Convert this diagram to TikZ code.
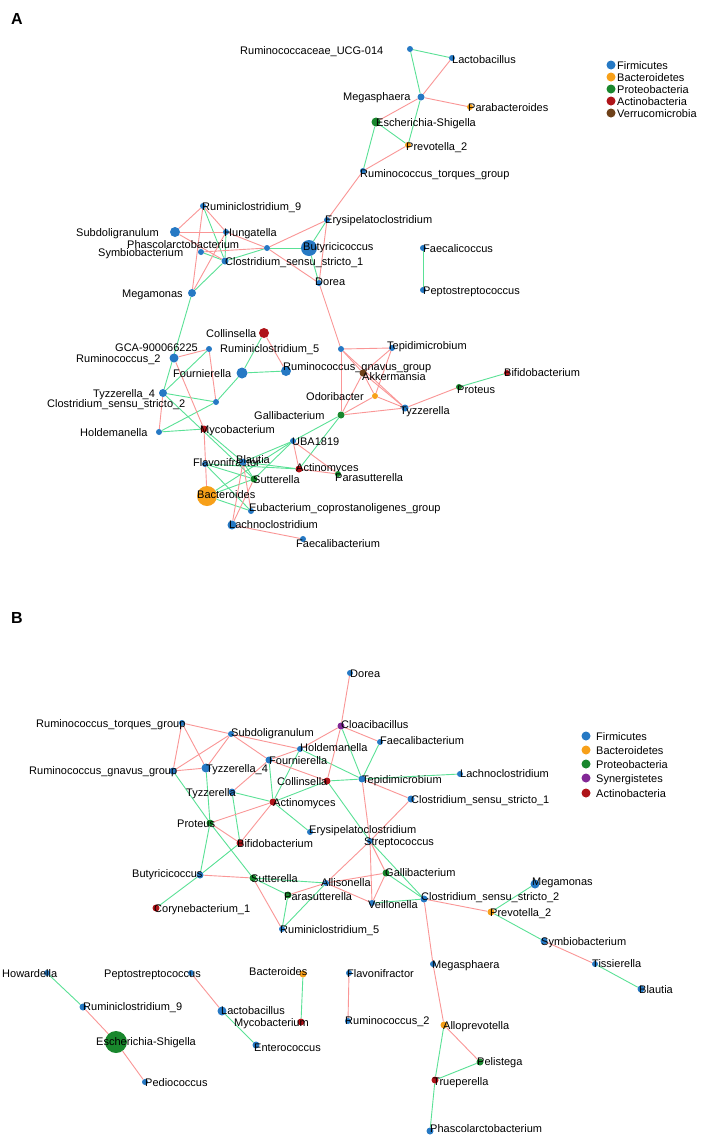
\documentclass[tikz,border=0pt]{standalone}
\usepackage{fontspec}
\setmainfont{Liberation Sans}
\usetikzlibrary{backgrounds}
\definecolor{fblue}{RGB}{38,121,196}
\definecolor{forange}{RGB}{247,160,25}
\definecolor{fgreen}{RGB}{25,135,45}
\definecolor{fred}{RGB}{175,20,25}
\definecolor{fbrown}{RGB}{110,65,25}
\definecolor{fpurple}{RGB}{130,40,150}
\definecolor{egreen}{RGB}{90,225,150}
\definecolor{ered}{RGB}{250,150,150}
\tikzset{
  lbl/.style={inner sep=0pt, font=\fontsize{11}{13}\selectfont, text=black},
  vtx/.style={circle, inner sep=0pt, draw=none},
  ge/.style={draw=egreen, line width=0.9pt},
  re/.style={draw=ered, line width=0.9pt},
  panel/.style={inner sep=0pt, font=\bfseries\fontsize{16}{18}\selectfont},
}
\newcommand{\nd}[8]{%
  \node[vtx, fill=#4, minimum size=#5*2pt] (#1) at (#2,#3) {};
  \node[lbl, anchor=base west] (#1-l) at (#6,#7+4) {#8};}
\begin{document}
\begin{tikzpicture}[x=1pt,y=-1pt]
\useasboundingbox (0,0) rectangle (702,1138);
\node[panel] (pA) at (17,19) {A};
\node[panel] (pB) at (17,618) {B};
% ---------------- Panel A nodes
\nd{aUCG}{410}{49}{fblue}{3}{240}{50}{Ruminococcaceae\_UCG-014}
\nd{aLac}{452}{58}{fblue}{3}{452}{59}{Lactobacillus}
\nd{aMeg}{421}{97}{fblue}{3.5}{343}{96}{Megasphaera}
\nd{aPara}{470}{107}{forange}{3}{468}{107}{Parabacteroides}
\nd{aEsch}{376}{122}{fgreen}{4.5}{376}{122}{Escherichia-Shigella}
\nd{aPrev}{408}{145}{forange}{3}{406}{146}{Prevotella\_2}
\nd{aRTG}{363}{171}{fblue}{3}{360}{173}{Ruminococcus\_torques\_group}
\nd{aErys}{327}{220}{fblue}{3}{325}{219}{Erysipelatoclostridium}
\nd{aR9}{203}{206}{fblue}{3}{202}{206}{Ruminiclostridium\_9}
\nd{aSub}{175}{232}{fblue}{5}{76}{232}{Subdoligranulum}
\nd{aHung}{226}{232}{fblue}{3}{224}{232}{Hungatella}
\nd{aSymb}{201}{252}{fblue}{3}{98}{252}{Symbiobacterium}
\nd{aPhasc}{267}{248}{fblue}{3}{127}{244}{Phascolarctobacterium}
\nd{aCSS1}{225}{261}{fblue}{3.5}{225}{261}{Clostridium\_sensu\_stricto\_1}
\nd{aButy}{309}{248}{fblue}{8}{303}{246}{Butyricicoccus}
\nd{aDorea}{319}{283}{fblue}{3}{315}{281}{Dorea}
\nd{aMegam}{192}{293}{fblue}{4}{122}{293}{Megamonas}
\nd{aFaecc}{423}{248}{fblue}{3}{423}{248}{Faecalicoccus}
\nd{aPepto}{423}{290}{fblue}{3}{423}{290}{Peptostreptococcus}
\nd{aColl}{264}{333}{fred}{5}{206}{333}{Collinsella}
\nd{aGCA}{209}{349}{fblue}{3}{115}{347}{GCA-900066225}
\nd{aR2}{174}{358}{fblue}{4.5}{76}{358}{Ruminococcus\_2}
\nd{aFour}{242}{373}{fblue}{5.5}{173}{373}{Fournierella}
\nd{aRGG}{286}{371}{fblue}{5}{283}{366}{Ruminococcus\_gnavus\_group}
\nd{aR5}{341}{349}{fblue}{3}{220}{348}{Ruminiclostridium\_5}
\nd{aTep}{392}{348}{fblue}{3}{387}{345}{Tepidimicrobium}
\nd{aAkk}{363}{373}{fbrown}{3.5}{362}{376}{Akkermansia}
\nd{aOdo}{375}{396}{forange}{3}{306}{396}{Odoribacter}
\nd{aTyz}{405}{408}{fblue}{3.5}{400}{410}{Tyzzerella}
\nd{aGall}{341}{415}{fgreen}{3.5}{254}{415}{Gallibacterium}
\nd{aProt}{459}{387}{fgreen}{3}{457}{389}{Proteus}
\nd{aBifi}{507}{373}{fred}{3}{504}{372}{Bifidobacterium}
\nd{aTyzF}{163}{393}{fblue}{4}{93}{393}{Tyzzerella\_4}
\nd{aCSS2}{216}{402}{fblue}{3}{47}{403}{Clostridium\_sensu\_stricto\_2}
\nd{aHold}{159}{432}{fblue}{3}{80}{432}{Holdemanella}
\nd{aMyco}{204}{429}{fred}{3.5}{200}{429}{Mycobacterium}
\nd{aUBA}{293}{441}{fblue}{3}{292}{441}{UBA1819}
\nd{aFlav}{205}{464}{fblue}{3}{193}{462}{Flavonifractor}
\nd{aBlau}{243}{462}{fblue}{3.5}{236}{459}{Blautia}
\nd{aActi}{299}{469}{fred}{3.5}{296}{467}{Actinomyces}
\nd{aParS}{338}{474}{fgreen}{3}{335}{477}{Parasutterella}
\nd{aSutt}{254}{479}{fgreen}{3.5}{253}{479}{Sutterella}
\nd{aBact}{207}{496}{forange}{10}{197}{494}{Bacteroides}
\nd{aEub}{251}{511}{fblue}{3}{249}{507}{Eubacterium\_coprostanoligenes\_group}
\nd{aLach}{232}{525}{fblue}{4.5}{229}{524}{Lachnoclostridium}
\nd{aFaec}{303}{539}{fblue}{3}{296}{543}{Faecalibacterium}
% legend A
\nd{laA}{611}{65}{fblue}{4.5}{617}{65}{Firmicutes}
\nd{laB}{611}{77}{forange}{4.5}{617}{77}{Bacteroidetes}
\nd{laC}{611}{89}{fgreen}{4.5}{617}{89}{Proteobacteria}
\nd{laD}{611}{101}{fred}{4.5}{617}{101}{Actinobacteria}
\nd{laE}{611}{113}{fbrown}{4.5}{617}{113}{Verrucomicrobia}
% ---------------- Panel B nodes
\nd{bDorea}{350}{673}{fblue}{3}{350}{673}{Dorea}
\nd{bCloa}{341}{726}{fpurple}{3.5}{341}{724}{Cloacibacillus}
\nd{bRTG}{182}{723}{fblue}{3}{36}{723}{Ruminococcus\_torques\_group}
\nd{bSub}{231}{734}{fblue}{3}{231}{732}{Subdoligranulum}
\nd{bFaec}{380}{742}{fblue}{3}{380}{740}{Faecalibacterium}
\nd{bHold}{300}{749}{fblue}{3}{300}{747}{Holdemanella}
\nd{bFour}{269}{760}{fblue}{3.5}{269}{760}{Fournierella}
\nd{bRGG}{173}{771}{fblue}{3.5}{29}{770}{Ruminococcus\_gnavus\_group}
\nd{bTyzF}{206}{768}{fblue}{4.5}{206}{768}{Tyzzerella\_4}
\nd{bColl}{327}{781}{fred}{3.5}{277}{781}{Collinsella}
\nd{bTep}{362}{779}{fblue}{3.5}{362}{779}{Tepidimicrobium}
\nd{bLach}{460}{774}{fblue}{3}{460}{773}{Lachnoclostridium}
\nd{bTyz}{232}{792}{fblue}{3.5}{186}{792}{Tyzzerella}
\nd{bCSS1}{411}{799}{fblue}{3.5}{411}{799}{Clostridium\_sensu\_stricto\_1}
\nd{bActi}{273}{802}{fred}{3.5}{273}{802}{Actinomyces}
\nd{bProt}{210}{823}{fgreen}{3.5}{177}{823}{Proteus}
\nd{bErys}{310}{832}{fblue}{3}{309}{829}{Erysipelatoclostridium}
\nd{bBifi}{240}{843}{fred}{3.5}{237}{843}{Bifidobacterium}
\nd{bStrep}{370}{841}{fblue}{3}{364}{841}{Streptococcus}
\nd{bButy}{200}{875}{fblue}{3.5}{132}{873}{Butyricicoccus}
\nd{bSutt}{253}{878}{fgreen}{3.5}{251}{878}{Sutterella}
\nd{bAlli}{326}{883}{fblue}{3}{321}{882}{Allisonella}
\nd{bGall}{386}{873}{fgreen}{3.5}{385}{872}{Gallibacterium}
\nd{bParS}{288}{895}{fgreen}{3.5}{284}{896}{Parasutterella}
\nd{bVeil}{372}{903}{fblue}{3}{368}{904}{Veillonella}
\nd{bCSS2}{424}{899}{fblue}{3.5}{421}{896}{Clostridium\_sensu\_stricto\_2}
\nd{bMegam}{535}{884}{fblue}{4.5}{532}{881}{Megamonas}
\nd{bPrev}{491}{912}{forange}{3.5}{490}{912}{Prevotella\_2}
\nd{bCory}{156}{908}{fred}{3.5}{154}{908}{Corynebacterium\_1}
\nd{bR5}{282}{929}{fblue}{3}{280}{929}{Ruminiclostridium\_5}
\nd{bSymb}{544}{941}{fblue}{3.5}{541}{941}{Symbiobacterium}
\nd{bTiss}{595}{964}{fblue}{3}{592}{963}{Tissierella}
\nd{bBlau}{641}{989}{fblue}{3.5}{639}{989}{Blautia}
\nd{bMegas}{433}{964}{fblue}{3}{432}{964}{Megasphaera}
\nd{bHow}{47}{973}{fblue}{3}{2}{973}{Howardella}
\nd{bPepto}{191}{973}{fblue}{3}{104}{973}{Peptostreptococcus}
\nd{bBact}{303}{974}{forange}{3.5}{249}{971}{Bacteroides}
\nd{bFlav}{349}{973}{fblue}{3}{347}{973}{Flavonifractor}
\nd{bR9}{83}{1007}{fblue}{3.5}{83}{1006}{Ruminiclostridium\_9}
\nd{bLac}{222}{1011}{fblue}{4.5}{221}{1010}{Lactobacillus}
\nd{bMyco}{301}{1022}{fred}{3.5}{234}{1022}{Mycobacterium}
\nd{bR2}{348}{1021}{fblue}{3}{345}{1020}{Ruminococcus\_2}
\nd{bAllo}{444}{1025}{forange}{3.5}{443}{1025}{Alloprevotella}
\nd{bEsch}{116}{1042}{fgreen}{11}{96}{1041}{Escherichia-Shigella}
\nd{bEnt}{256}{1045}{fblue}{3.5}{254}{1047}{Enterococcus}
\nd{bPel}{480}{1062}{fgreen}{3.5}{477}{1061}{Pelistega}
\nd{bPedi}{145}{1082}{fblue}{3}{145}{1082}{Pediococcus}
\nd{bTrue}{435}{1080}{fred}{3.5}{433}{1081}{Trueperella}
\nd{bPhasc}{430}{1131}{fblue}{3.5}{430}{1128}{Phascolarctobacterium}
% legend B
\nd{lbA}{586}{736}{fblue}{4.5}{596}{736}{Firmicutes}
\nd{lbB}{586}{750}{forange}{4.5}{596}{750}{Bacteroidetes}
\nd{lbC}{586}{764}{fgreen}{4.5}{596}{764}{Proteobacteria}
\nd{lbD}{586}{778}{fpurple}{4.5}{596}{778}{Synergistetes}
\nd{lbE}{586}{793}{fred}{4.5}{596}{793}{Actinobacteria}
% ---------------- edges
\begin{pgfonlayer}{background}
\fill[white] (0,0) rectangle (702,1138);
% panel A green
\foreach \a/\b in {aUCG/aLac, aUCG/aMeg, aMeg/aPrev, aEsch/aPrev, aEsch/aRTG,
  aR9/aCSS1, aHung/aCSS1, aSymb/aCSS1, aCSS1/aPhasc, aPhasc/aButy, aButy/aErys,
  aButy/aDorea, aMegam/aCSS1, aMegam/aTyzF, aFaecc/aPepto, aProt/aBifi,
  aGall/aUBA, aGall/aActi, aUBA/aBlau, aUBA/aSutt, aTyzF/aGCA, aTyzF/aCSS2,
  aTyzF/aSutt, aCSS2/aFour, aFour/aColl, aFour/aRGG, aCSS2/aHold, aHold/aMyco,
  aMyco/aBlau, aFlav/aSutt, aFlav/aActi, aFlav/aEub, aBlau/aActi, aBlau/aSutt,
  aUBA/aBact, aBact/aSutt, aBact/aEub}
  \draw[ge] (\a) -- (\b);
% panel A red
\foreach \a/\b in {aLac/aMeg, aMeg/aPara, aMeg/aEsch, aPrev/aRTG, aRTG/aErys,
  aR9/aSub, aR9/aHung, aR9/aMegam, aSub/aHung, aSub/aCSS1, aHung/aPhasc,
  aHung/aMegam, aSymb/aPhasc, aPhasc/aErys, aPhasc/aDorea, aErys/aDorea,
  aDorea/aR5, aR5/aTep, aR5/aAkk, aR5/aTyz, aR5/aGall, aTep/aAkk, aTep/aOdo,
  aAkk/aOdo, aAkk/aGall, aAkk/aTyz, aOdo/aTyz, aOdo/aGall, aGall/aTyz,
  aTyz/aProt, aUBA/aActi, aUBA/aParS, aActi/aParS, aGCA/aR2, aGCA/aCSS2,
  aR2/aMyco, aTyzF/aHold, aColl/aRGG, aMyco/aBact, aBlau/aLach, aBlau/aEub,
  aSutt/aLach, aLach/aFaec}
  \draw[re] (\a) -- (\b);
% panel B green
\foreach \a/\b in {bCloa/bTep, bFaec/bTep, bHold/bTep, bHold/bActi, bRGG/bProt,
  bTyzF/bProt, bTyz/bBifi, bTyz/bActi, bButy/bProt, bProt/bSutt, bBifi/bButy,
  bActi/bColl, bActi/bFour, bActi/bErys, bColl/bTep, bColl/bStrep,
  bTep/bLach, bStrep/bCSS2, bGall/bCSS2, bAlli/bSutt, bAlli/bR5, bVeil/bCSS2,
  bSutt/bParS, bParS/bR5, bButy/bCory, bPrev/bMegam, bPrev/bSymb, bTiss/bBlau,
  bAllo/bTrue, bPel/bTrue, bTrue/bPhasc, bHow/bR9, bLac/bEnt, bBact/bMyco}
  \draw[ge] (\a) -- (\b);
% panel B red
\foreach \a/\b in {bDorea/bCloa, bRTG/bSub, bRTG/bRGG, bRTG/bTyzF, bSub/bHold,
  bSub/bTyzF, bSub/bRGG, bSub/bFour, bFour/bColl, bCloa/bHold, bCloa/bFaec,
  bCloa/bColl, bHold/bFour, bFour/bTyz, bRGG/bTyzF, bProt/bActi, bProt/bBifi,
  bBifi/bActi, bTep/bStrep, bTep/bCSS1, bCSS1/bStrep, bStrep/bAlli,
  bStrep/bVeil, bStrep/bGall, bGall/bAlli, bGall/bVeil, bAlli/bParS,
  bAlli/bVeil, bSutt/bR5, bSutt/bButy, bCSS2/bPrev, bCSS2/bMegas,
  bMegas/bAllo, bSymb/bTiss, bAllo/bPel, bR9/bEsch, bEsch/bPedi,
  bPepto/bLac, bFlav/bR2}
  \draw[re] (\a) -- (\b);
\end{pgfonlayer}
\end{tikzpicture}
\end{document}
